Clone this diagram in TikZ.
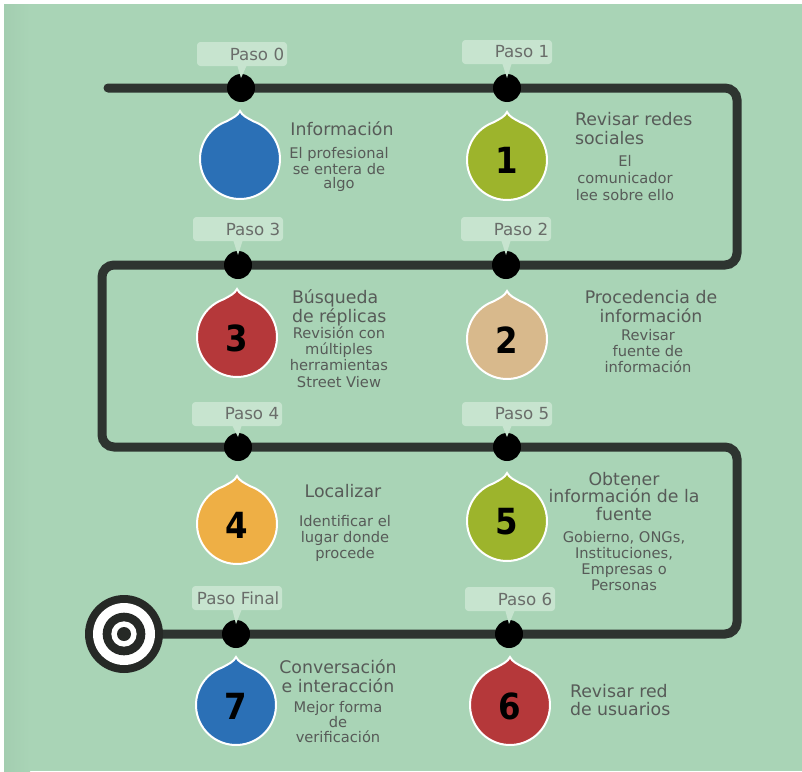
\documentclass[tikz,border=0pt]{standalone}
\usepackage{fontspec}
\setmainfont{DejaVu Sans}
\newfontfamily\numfont{DejaVu Sans Condensed}
\usetikzlibrary{calc,backgrounds}
\definecolor{bg}{HTML}{A9D4B6}
\definecolor{bgdark}{HTML}{A3CDB0}
\definecolor{boxc}{HTML}{C7E4CF}
\definecolor{trk}{HTML}{2E3430}
\definecolor{tgc}{HTML}{262926}
\definecolor{txt}{HTML}{575B58}
\definecolor{ptxt}{HTML}{6A6D6A}
\definecolor{cblue}{HTML}{2B70B6}
\definecolor{cgreen}{HTML}{9DB42C}
\definecolor{cred}{HTML}{B5383A}
\definecolor{ctan}{HTML}{D8B98C}
\definecolor{corange}{HTML}{EEAF45}
\tikzset{
 every node/.style={inner sep=0pt, outer sep=0pt},
 track/.style={draw=trk, line width=6.75pt, rounded corners=9pt, line cap=round},
 stepdot/.style={circle, fill=black, minimum size=21pt},
 pbox/.style={fill=boxc, rounded corners=2.5pt, minimum height=18pt, text width=63.5pt, align=right, inner xsep=2pt, font=\fontsize{12.5}{14}\selectfont, text=ptxt},
 ptr/.style={fill=boxc},
 numtxt/.style={font=\numfont\bfseries\fontsize{27}{27}\selectfont, text=black},
 ttl/.style={font=\fontsize{13}{14.25}\selectfont, text=txt, anchor=base},
 ttll/.style={font=\fontsize{13}{14.25}\selectfont, text=txt, anchor=base west, align=left},
 sub/.style={text=txt, anchor=base, align=center},
 ring/.style={circle}
}
\newcommand\dropshape[3]{%
 \filldraw[fill=#3, draw=white, line width=1.5pt, shift={(#1,#2)}]
 (0pt,36pt) .. controls (1.5pt,32.5pt) and (6pt,30.5pt) .. (70:30pt)
 arc[start angle=70, end angle=-250, radius=30pt]
 .. controls (-6pt,30.5pt) and (-1.5pt,32.5pt) .. (0pt,36pt) -- cycle;}
\newcommand\subf[1]{\fontsize{11}{#1}\selectfont}
\begin{document}
\begin{tikzpicture}[x=0.75pt,y=-0.75pt]
\useasboundingbox (0,0) rectangle (802,771);

% target
\node[ring, fill=tgc, minimum size=58.5pt] (tg) at (124,634) {};
\node[ring, fill=white, minimum size=46.5pt] (tg1) at (tg) {};
\node[ring, fill=tgc, minimum size=32pt] (tg2) at (tg) {};
\node[ring, fill=white, minimum size=19pt] (tg3) at (tg) {};
\node[ring, fill=tgc, minimum size=10.5pt] (tg4) at (tg) {};

% step dots
\node[stepdot] (p0) at (241,88) {};
\node[stepdot] (p1) at (507,88) {};
\node[stepdot] (p3) at (238,265) {};
\node[stepdot] (p2) at (506,265) {};
\node[stepdot] (p4) at (238,447) {};
\node[stepdot] (p5) at (507,447) {};
\node[stepdot] (pF) at (236,634) {};
\node[stepdot] (p6) at (509,634) {};

% labels
\node[pbox] (b0) at (242,54) {Paso 0};
\node[pbox] (b1) at (507,52) {Paso 1};
\node[pbox] (b3) at (238,229) {Paso 3};
\node[pbox] (b2) at (506,229) {Paso 2};
\node[pbox] (b4) at (237,414) {Paso 4};
\node[pbox] (b5) at (507,414) {Paso 5};
\node[pbox] (bF) at (237,598) {Paso Final};
\node[pbox] (b6) at (510,599) {Paso 6};
\foreach \b/\p in {b0/p0,b1/p1,b3/p3,b2/p2,b4/p4,b5/p5,bF/pF,b6/p6}{
 \fill[ptr] ($(\b.south)+(-3.5pt,0.3pt)$) -- ($(\b.south)+(3.5pt,0.3pt)$) -- ($(\p.north)+(0,-3pt)$) -- cycle;
}

% track
\coordinate (start) at (108,88);
\coordinate (k1) at (737,88);
\coordinate (k2) at (737,265);
\coordinate (k3) at (102,265);
\coordinate (k4) at (102,447);
\coordinate (k5) at (737,447);
\coordinate (k6) at (737,634);
\begin{scope}[on background layer]
\fill[white] (0,0) rectangle (802,771);
\fill[bg] (4,4) rectangle (802,771);
\shade[left color=bgdark, right color=bg] (4,4) rectangle (30,771);
\draw[track] (start) -- (k1) -- (k2) -- (k3) -- (k4) -- (k5) -- (k6) -- (tg);
\end{scope}

% drops
\dropshape{240}{159}{cblue}
\dropshape{507}{160}{cgreen}
\dropshape{237}{337}{cred}
\dropshape{507}{339}{ctan}
\dropshape{237}{524}{corange}
\dropshape{507}{521}{cgreen}
\dropshape{236}{705}{cblue}
\dropshape{510}{705}{cred}
\node[numtxt] (n1) at (507,160) {1};
\node[numtxt] (n2) at (507,340) {2};
\node[numtxt] (n3) at (237,338) {3};
\node[numtxt] (n4) at (237,525) {4};
\node[numtxt] (n5) at (507,522) {5};
\node[numtxt] (n6) at (510,706) {6};
\node[numtxt] (n7) at (236,706) {7};

% texts (base anchor = baseline of the last line)
\node[ttl] (t0) at (342,135) {Información};
\node[sub, font=\subf{10.5}] (s0) at (339,188) {El profesional\\se entera de\\algo};

\node[ttll] (t1) at (575,144) {Revisar redes\\sociales};
\node[sub, font=\subf{12.4}] (s1) at (625,200) {El\\comunicador\\lee sobre ello};

\node[ttll] (t3) at (292,322) {Búsqueda\\de réplicas};
\node[sub, font=\subf{12.2}] (s3) at (339,387) {Revisión con\\múltiples\\herramientas\\Street View};

\node[ttl, align=center] (t2) at (651,322) {Procedencia de\\información};
\node[sub, font=\subf{12}] (s2) at (648,372) {Revisar\\fuente de\\información};

\node[ttl] (t4) at (343,497) {Localizar};
\node[sub, font=\subf{12}] (s4) at (345,558) {Identificar el\\lugar donde\\procede};

\node[ttl, align=center, font=\fontsize{13}{13.1}\selectfont] (t5) at (624,520) {Obtener\\información de la\\fuente};
\node[sub, font=\subf{12}] (s5) at (624,590) {Gobierno, ONGs,\\Instituciones,\\Empresas o\\Personas};

\node[ttl, align=center] (t7) at (338,692) {Conversación\\e interacción};
\node[sub, font=\subf{11.25}] (s7) at (338,742) {Mejor forma\\de\\verificación};

\node[ttll, font=\fontsize{13}{13.5}\selectfont] (t6) at (570,715) {Revisar red\\de usuarios};
\end{tikzpicture}
\end{document}
